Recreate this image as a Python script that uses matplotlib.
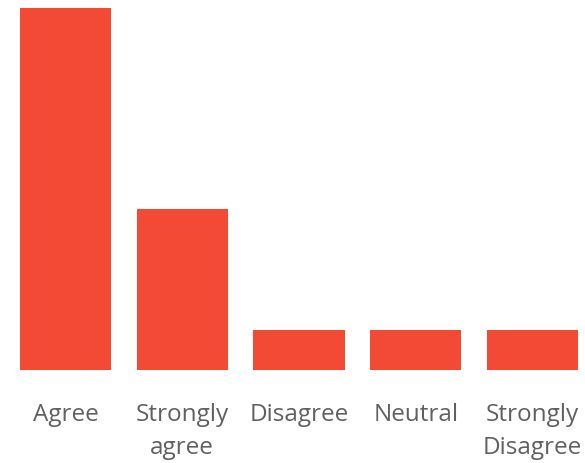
import matplotlib
matplotlib.use('Agg')
import matplotlib.pyplot as plt

categories = ['Agree', 'Strongly\nagree', 'Disagree', 'Neutral', 'Strongly\nDisagree']
counts = [9, 4, 1, 1, 1]

bar_color = '#F24A35'
text_color = '#606060'

plt.rcParams['font.family'] = ['Open Sans', 'DejaVu Sans']

fig = plt.figure(figsize=(5.85, 4.64), dpi=100)
ax = fig.add_axes([20/585, (464-371)/464, 558/585, 362/464])

x = range(len(categories))
ax.bar(x, counts, width=0.78, color=bar_color)
ax.set_xlim(-0.39, len(categories) - 1 + 0.39)
ax.set_ylim(0, 9)

ax.set_xticks(list(x))
ax.set_xticklabels(categories, fontsize=17.5, color=text_color, linespacing=1.5, va='top')
ax.tick_params(axis='x', length=0, pad=23)
ax.set_yticks([])
for s in ax.spines.values():
    s.set_visible(False)

fig.savefig('out.png', dpi=100)
